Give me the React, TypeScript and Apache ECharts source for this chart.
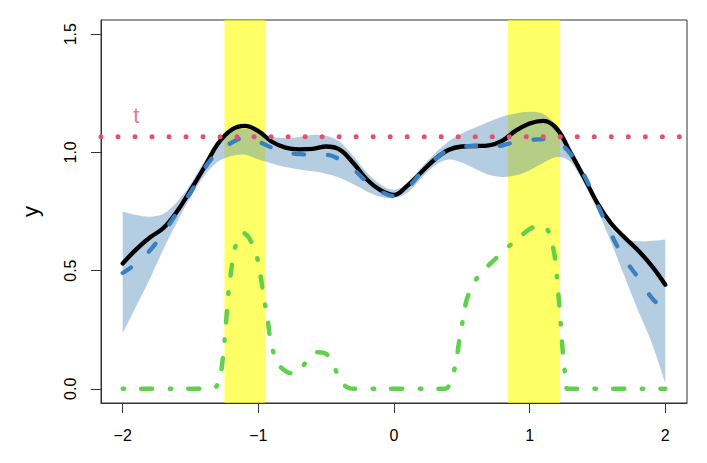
import React, { useEffect, useRef } from 'react';
import * as echarts from 'echarts';

const xGrid = [-2.0, -1.9, -1.8, -1.7, -1.6, -1.5, -1.4, -1.3, -1.2, -1.1, -1.0, -0.9, -0.8, -0.7, -0.6, -0.5, -0.4, -0.3, -0.2, -0.1, 0.0, 0.1, 0.2, 0.3, 0.4, 0.5, 0.6, 0.7, 0.8, 0.9, 1.0, 1.1, 1.2, 1.3, 1.4, 1.5, 1.6, 1.7, 1.8, 1.9, 2.0];
const fitBlack = [0.53, 0.59, 0.64, 0.68, 0.75, 0.84, 0.935, 1.035, 1.095, 1.112, 1.09, 1.045, 1.02, 1.013, 1.015, 1.025, 1.012, 0.955, 0.885, 0.84, 0.82, 0.86, 0.915, 0.97, 1.01, 1.025, 1.027, 1.03, 1.05, 1.093, 1.122, 1.133, 1.1, 1.0, 0.895, 0.785, 0.7, 0.64, 0.585, 0.52, 0.44];
const meanBlue = [0.49, 0.53, 0.585, 0.66, 0.745, 0.83, 0.93, 1.0, 1.04, 1.062, 1.045, 1.02, 1.0, 0.993, 0.99, 0.99, 0.97, 0.93, 0.875, 0.835, 0.815, 0.85, 0.915, 0.97, 1.01, 1.025, 1.027, 1.022, 1.03, 1.045, 1.052, 1.056, 1.045, 0.995, 0.905, 0.78, 0.655, 0.55, 0.47, 0.385, 0.33];
const bandUpper = [0.75, 0.735, 0.728, 0.74, 0.79, 0.865, 0.96, 1.04, 1.09, 1.1, 1.085, 1.066, 1.06, 1.065, 1.074, 1.07, 1.045, 0.985, 0.915, 0.865, 0.842, 0.87, 0.935, 0.995, 1.045, 1.08, 1.105, 1.13, 1.152, 1.165, 1.172, 1.162, 1.11, 1.005, 0.9, 0.79, 0.68, 0.635, 0.624, 0.626, 0.632];
const bandLower = [0.235, 0.35, 0.465, 0.59, 0.705, 0.81, 0.9, 0.96, 0.985, 0.99, 0.97, 0.953, 0.938, 0.928, 0.92, 0.91, 0.893, 0.865, 0.835, 0.812, 0.807, 0.83, 0.89, 0.945, 0.97, 0.957, 0.93, 0.905, 0.896, 0.903, 0.925, 0.955, 0.98, 0.96, 0.87, 0.755, 0.62, 0.475, 0.33, 0.195, 0.025];
const probX = [-2.0, -1.35, -1.31, -1.28, -1.25, -1.22, -1.2, -1.18, -1.15, -1.11, -1.07, -1.02, -0.99, -0.96, -0.93, -0.91, -0.86, -0.8, -0.74, -0.68, -0.62, -0.56, -0.5, -0.45, -0.4, -0.35, -0.3, 0.38, 0.43, 0.46, 0.48, 0.51, 0.535, 0.58, 0.64, 0.72, 0.8, 0.88, 0.97, 1.03, 1.08, 1.13, 1.16, 1.185, 1.2, 1.215, 1.23, 1.245, 1.262, 1.278, 2.0];
const probY = [0, 0, 0.01, 0.05, 0.2, 0.41, 0.5, 0.58, 0.63, 0.66, 0.64, 0.58, 0.5, 0.39, 0.29, 0.2, 0.11, 0.075, 0.063, 0.09, 0.135, 0.155, 0.148, 0.11, 0.035, 0.008, 0, 0, 0.05, 0.12, 0.2, 0.3, 0.375, 0.44, 0.49, 0.535, 0.578, 0.62, 0.663, 0.685, 0.69, 0.675, 0.63, 0.56, 0.48, 0.38, 0.27, 0.15, 0.06, 0, 0];
const threshold = 1.066;
const regionStarts = [-1.25, 0.84];
const regionEnds = [-0.95, 1.225];
const xTicks = [-2, -1, 0, 1, 2];
const yTicks = [0, 0.5, 1, 1.5];
const tLabel = { x: -1.9, y: 1.155, text: 't' };

const FONT = 'Liberation Sans, Arial, Helvetica, sans-serif';

// Catmull-Rom style smooth path through pixel points (rendering only)
function smoothSegs(pts: number[][], move: boolean): string {
  let d = move ? `M${pts[0][0]},${pts[0][1]}` : `L${pts[0][0]},${pts[0][1]}`;
  const n = pts.length;
  for (let i = 0; i < n - 1; i++) {
    const p0 = pts[Math.max(0, i - 1)];
    const p1 = pts[i];
    const p2 = pts[i + 1];
    const p3 = pts[Math.min(n - 1, i + 2)];
    const c1x = p1[0] + (p2[0] - p0[0]) / 6;
    const c1y = p1[1] + (p2[1] - p0[1]) / 6;
    const c2x = p2[0] - (p3[0] - p1[0]) / 6;
    const c2y = p2[1] - (p3[1] - p1[1]) / 6;
    d += `C${c1x},${c1y},${c2x},${c2y},${p2[0]},${p2[1]}`;
  }
  return d;
}

export default function App() {
  const ref = useRef<HTMLDivElement>(null);
  useEffect(() => {
    if (!ref.current) return;
    const chart = echarts.init(ref.current, undefined, { renderer: 'svg' });
    const pairs = (ys: number[]) => xGrid.map((x, i) => [x, ys[i]]);
    const option: any = {
      animation: false,
      backgroundColor: '#ffffff',
      grid: {
        left: 101, right: 20, top: 20, bottom: 60,
        show: true, borderColor: '#333', borderWidth: 1, backgroundColor: 'transparent',
      },
      xAxis: {
        type: 'value', min: -2.16, max: 2.16,
        splitLine: { show: false },
        axisLine: { show: true, onZero: false, lineStyle: { color: '#333', width: 1 } },
        axisTick: { show: true, length: 10, lineStyle: { color: '#333' }, customValues: xTicks },
        axisLabel: {
          customValues: xTicks, color: '#000', fontSize: 16, fontFamily: FONT, margin: 24,
          formatter: (v: number) => String(v).replace('-', '\u2212'),
        },
      },
      yAxis: {
        type: 'value', min: -0.06, max: 1.56,
        name: 'y', nameLocation: 'middle', nameGap: 60,
        nameTextStyle: { color: '#000', fontSize: 22, fontFamily: FONT },
        splitLine: { show: false },
        axisLine: { show: true, onZero: false, lineStyle: { color: '#333', width: 1 } },
        axisTick: { show: true, length: 10, lineStyle: { color: '#333' }, customValues: yTicks },
        axisLabel: {
          customValues: yTicks, rotate: 90, color: '#000', fontSize: 16, fontFamily: FONT, margin: 23,
          formatter: (v: number) => v.toFixed(1),
        },
      },
      series: [
        {
          type: 'line', data: pairs(bandLower), symbol: 'none', silent: true,
          lineStyle: { width: 0, opacity: 0 }, z: 1,
          markArea: {
            silent: true,
            itemStyle: { color: 'rgba(255,255,0,0.6)' },
            data: regionStarts.map((s, i) => [{ xAxis: s }, { xAxis: regionEnds[i] }]),
          },
        },
        {
          type: 'custom', data: [0], z: 2, silent: true,
          renderItem: (params: any, api: any) => {
            const up = xGrid.map((x, i) => api.coord([x, bandUpper[i]]));
            const lo = xGrid.map((x, i) => api.coord([x, bandLower[i]])).reverse();
            const d = smoothSegs(up, true) + smoothSegs(lo, false) + 'Z';
            return {
              type: 'path',
              shape: { pathData: d },
              style: { fill: 'rgba(70,130,180,0.4)', stroke: 'none' },
            };
          },
        },
        {
          type: 'line', data: probX.map((x, i) => [x, probY[i]]), symbol: 'none', smooth: 0.25, z: 3,
          lineStyle: { color: '#61D04F', width: 4.5, type: [1.5, 17, 11, 17.5], cap: 'round', join: 'round' },
        },
        {
          type: 'line', data: pairs(fitBlack), symbol: 'none', smooth: 0.4, z: 4,
          lineStyle: { color: '#000000', width: 4.3, cap: 'round', join: 'round' },
        },
        {
          type: 'line', data: pairs(meanBlue), symbol: 'none', smooth: 0.4, z: 5,
          lineStyle: { color: '#3a7fc0', width: 4.3, type: [10, 24], cap: 'round', join: 'round' },
        },
        {
          type: 'line', data: [[-2.16, threshold], [2.16, threshold]], symbol: 'none', z: 6,
          lineStyle: { color: '#DF536B', width: 5, type: [0.01, 17], cap: 'round' },
        },
        {
          type: 'scatter', data: [[tLabel.x, tLabel.y]], symbol: 'circle', symbolSize: 1, z: 7,
          itemStyle: { color: 'rgba(0,0,0,0)' },
          label: {
            show: true, position: 'inside', formatter: tLabel.text,
            color: '#DF536B', fontSize: 22, fontFamily: FONT,
          },
        },
      ],
    };
    chart.setOption(option);
    return () => chart.dispose();
  }, []);
  return <div ref={ref} style={{ position: 'fixed', left: 0, top: 0, width: 707, height: 463 }} />;
}
